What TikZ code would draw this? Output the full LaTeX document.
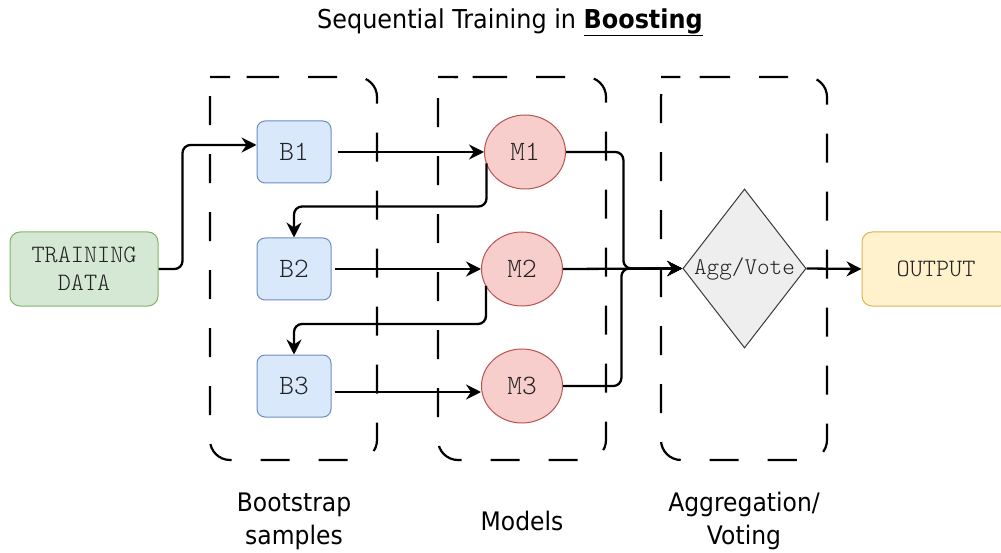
\documentclass[tikz,border=0pt]{standalone}
\usepackage{fontspec}
\setmainfont[FakeStretch=0.92]{DejaVu Sans}
\newfontfamily\lightmono{lmmonolt10-regular.otf}
\usetikzlibrary{arrows.meta,shapes.geometric,calc}
\definecolor{bfill}{HTML}{DAE8FC}
\definecolor{bstroke}{HTML}{6C8EBF}
\definecolor{mfill}{HTML}{F8CECC}
\definecolor{mstroke}{HTML}{B85450}
\definecolor{gfill}{HTML}{D5E8D4}
\definecolor{gstroke}{HTML}{82B366}
\definecolor{yfill}{HTML}{FFF2CC}
\definecolor{ystroke}{HTML}{D6B656}
\definecolor{dfill}{HTML}{EEEEEE}
\definecolor{dstroke}{HTML}{36393D}
\definecolor{txt}{HTML}{222222}
\begin{document}
\begin{tikzpicture}[x=1pt,y=-1pt,
  group/.style={draw=black, line width=2.2pt, dash pattern=on 29pt off 29pt, rounded corners=20pt},
  conn/.style={draw=black, line width=2.3pt, rounded corners=8pt, -{Stealth[length=15pt,width=15pt,inset=5pt]}},
  bbox/.style={draw=bstroke, fill=bfill, line width=1pt, rounded corners=8pt, minimum width=74pt, minimum height=62pt, inner sep=0pt, text=txt, font=\lightmono\fontsize{28}{30}\selectfont},
  mbox/.style={ellipse, draw=mstroke, fill=mfill, line width=1pt, minimum width=81pt, minimum height=74pt, inner sep=0pt, text=txt, font=\lightmono\fontsize{28}{30}\selectfont},
  sidebox/.style={line width=1pt, rounded corners=10pt, minimum width=148pt, minimum height=74pt, inner sep=0pt, align=center, text=txt, font=\lightmono\fontsize{25}{28}\selectfont},
  lab/.style={align=center, inner sep=0pt, font=\fontsize{25.5}{33}\selectfont}
]
\useasboundingbox (0,0) rectangle (1001,553);
% groups
\draw[group] (230,77) -- (377,77) -- (377,460) -- (210,460) -- (210,77) -- cycle;
\draw[group] (458,77) -- (606,77) -- (606,460) -- (438,460) -- (438,77) -- cycle;
\draw[group] (681,77) -- (827,77) -- (827,460) -- (661,460) -- (661,77) -- cycle;
% title
\node[inner sep=0pt, font=\fontsize{26}{28}\selectfont] (title) at (510,22) {Sequential Training in \textbf{\underline{Boosting}}};
% nodes
\node[sidebox, draw=gstroke, fill=gfill] (td) at (84,269) {TRAINING\\DATA};
\node[bbox] (b1) at (294,152) {B1};
\node[bbox] (b2) at (294,269) {B2};
\node[bbox] (b3) at (294,386) {B3};
\node[mbox] (m1) at (525,152) {M1};
\node[mbox] (m2) at (522,269) {M2};
\node[mbox] (m3) at (522,386) {M3};
\node[diamond, draw=dstroke, fill=dfill, line width=1pt, minimum width=123pt, minimum height=159pt, inner sep=0pt, text=txt, font=\lightmono\fontsize{24}{26}\selectfont] (agg) at (744.5,268.5) {Agg/Vote};
\node[sidebox, draw=ystroke, fill=yfill] (out) at (936,269) {OUTPUT};
% labels
\node[lab] (l1) at (294,521) {Bootstrap\\samples};
\node[lab] (l2) at (522,521) {Models};
\node[lab] (l3) at (744,521) {Aggregation/\\Voting};
% connectors
\draw[conn] (td.east) -- ++(24,0) |- ([yshift=7pt]b1.west);
\draw[conn] ([xshift=6pt]b1.east) -- (m1.west);
\draw[conn] ($(m1.center)+(-38.5,11.5)$) -- ++(0,43) -| (b2.north);
\draw[conn] ([xshift=3pt]b2.east) -- (m2.west);
\draw[conn] ($(m2.center)+(-36,17)$) -- ++(0,38) -| (b3.north);
\draw[conn] ($(b3.east)+(3,6)$) -- ($(b3.east -| m3.west)+(0,6)$);
\draw[conn] (m1.east) -| ($(agg.west)+(-59,0)$) -- (agg.west);
\draw[conn] (m2.east) -- (agg.west);
\draw[conn] (m3.east) -| ($(agg.west)+(-61,0)$) -- (agg.west);
\draw[conn] (agg.east) -- (out.west);
\end{tikzpicture}
\end{document}
